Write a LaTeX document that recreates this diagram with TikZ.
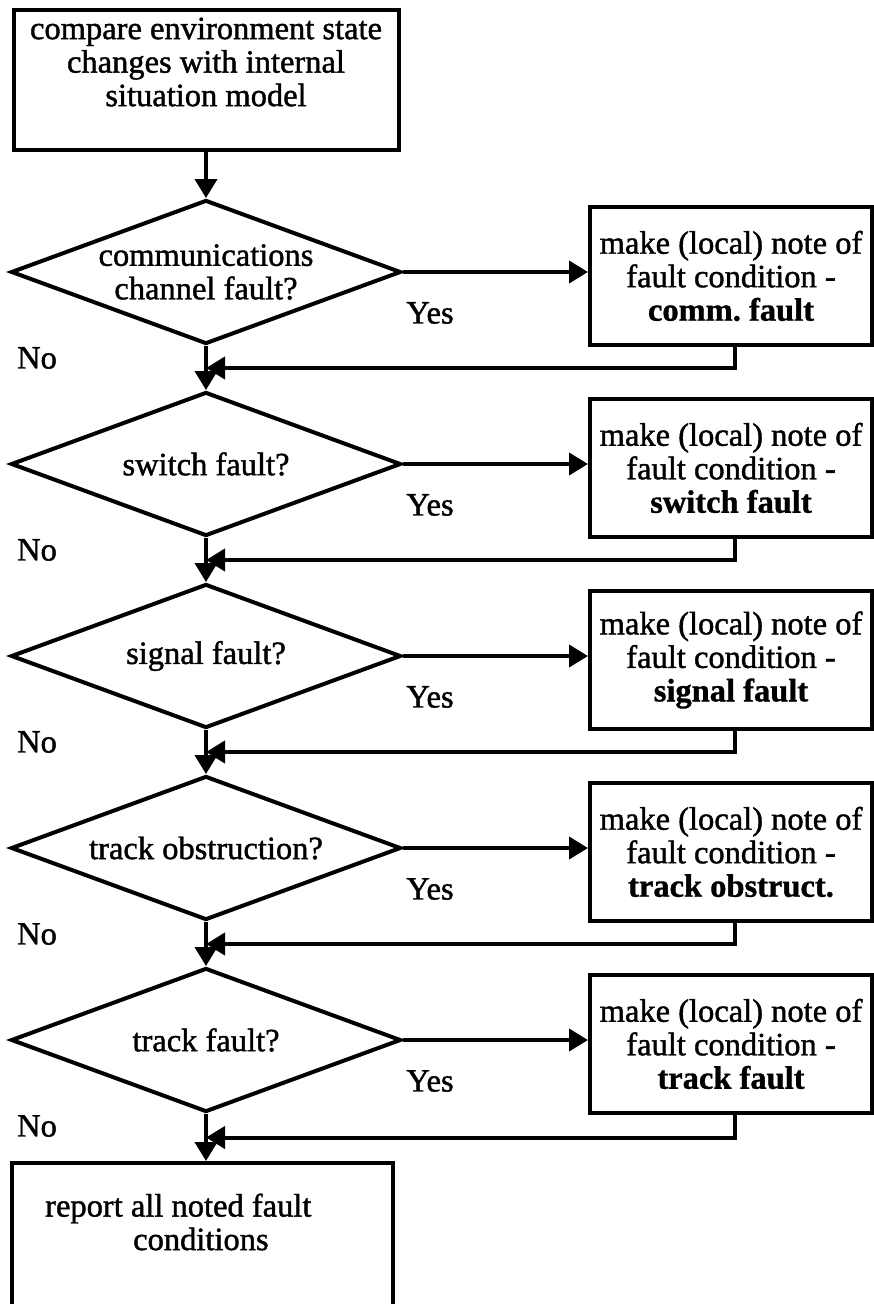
\documentclass[tikz,border=0pt]{standalone}
\usepackage{fontspec}
\setmainfont{Liberation Serif}[UprightFeatures={FakeBold=1.3},BoldFeatures={FakeBold=1}]
\frenchspacing
\usetikzlibrary{shapes.geometric,arrows.meta,calc}
\begin{document}
\begin{tikzpicture}[x=1pt,y=-1pt,
  every node/.style={font=\fontsize{32.5}{33.5}\selectfont},
  procbox/.style={draw,line width=4pt,rectangle,inner sep=0pt,align=center},
  notebox/.style={procbox,minimum width=282pt,minimum height=138pt},
  decision/.style={draw,line width=4pt,diamond,aspect=2.7,inner sep=0pt,
    minimum width=390pt,minimum height=144pt,align=center},
  flow/.style={line width=4pt,-{Triangle[length=19pt,width=22pt]}},
  lbl/.style={inner sep=0pt}
]
\useasboundingbox (0,0) rectangle (874,1304);
\fill[white] (0,0) rectangle (874,1304);

% first step
\node[procbox,minimum width=385pt,minimum height=140pt] (start) at (206,80) {};
\node[lbl,align=center] (starttext) at (206,62)
  {compare environment state\\changes with internal\\situation model};

% the five checks, each with its note box
\foreach \i/\q/\f [evaluate=\i as \y using {80+192*\i}] in
  {1/{communications\\channel fault?}/comm. fault,
   2/switch fault?/switch fault,
   3/signal fault?/signal fault,
   4/track obstruction?/track obstruct.,
   5/track fault?/track fault}{
  \node[decision] (d\i) at (206,\y) {\q};
  \node[notebox] (n\i) at (731,\y+4)
    {make (local) note of\\fault condition -\\\textbf{\f}};
  \node[lbl] (yes\i) at (430,\y+41) {Yes};
  \node[lbl] (no\i) at (37,\y+86) {No};
  \draw[flow] (d\i.east) -- (d\i.east -| n\i.west);
}

% final step (runs off the lower edge)
\node[procbox,minimum width=381pt,minimum height=180pt] (report) at (202.5,1253) {};
\node[lbl,anchor=west,align=left] (reporttext) at (45,1222)
  {report all noted fault\\\hspace*{88pt}conditions};

% main flow
\draw[flow] (start.south) -- (d1.north);
\foreach \i/\j in {1/2,2/3,3/4,4/5}{
  \draw[flow] (d\i.south) -- (d\j.north);
  \draw[flow] ([xshift=4pt]n\i.south) |- ($(d\i.south)!.5!(d\j.north)$);
}
\coordinate (endin) at (d5.south |- report.north);
\draw[flow] (d5.south) -- (endin);
\draw[flow] ([xshift=4pt]n5.south) |- ($(d5.south)!.5!(endin)$);
\end{tikzpicture}
\end{document}
